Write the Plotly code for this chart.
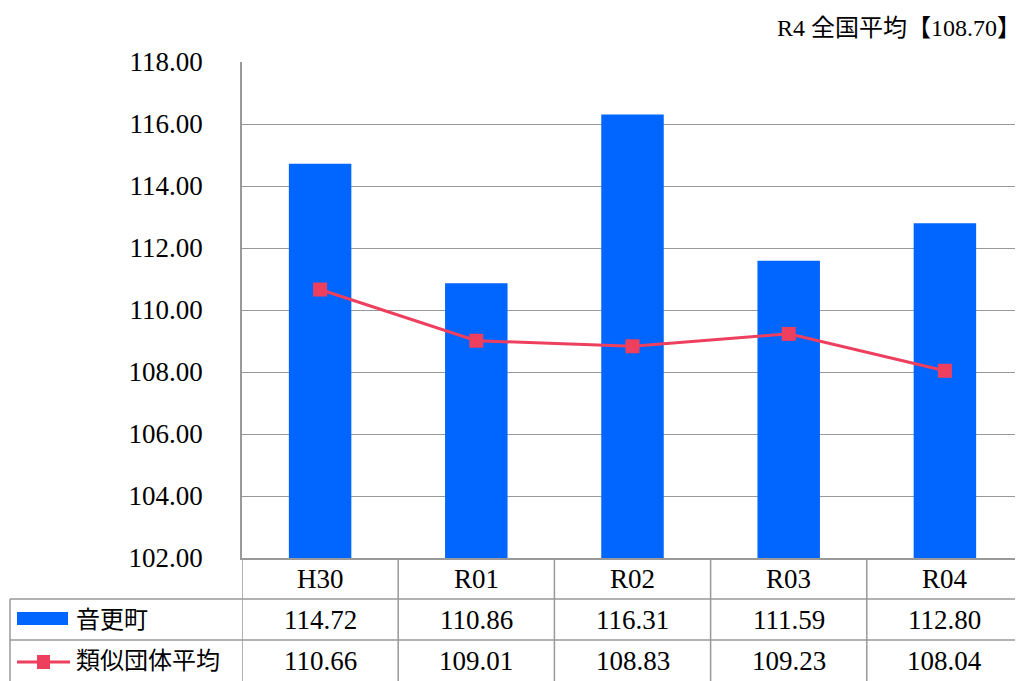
import plotly.graph_objects as go

CATEGORIES = ["H30", "R01", "R02", "R03", "R04"]
TOWN_NAME = "音更町"
TOWN_VALUES = [114.72, 110.86, 116.31, 111.59, 112.80]
SIMILAR_NAME = "類似団体平均"
SIMILAR_VALUES = [110.66, 109.01, 108.83, 109.23, 108.04]
NOTE = "R4 全国平均【108.70】"

BLUE = "#0066FF"
PINK = "#EE3F5E"
GRID = "#999999"
FONT = "Liberation Serif, Noto Sans CJK JP, serif"
NUM_SIZE = 27
CJK_SIZE = 24

# page body adds an 8px margin around the figure
OFFSET = 8
W, H = 1023, 681

# pixel layout (window coords) of the plot area, used for the data table
PLOT_LEFT, PLOT_RIGHT, PLOT_TOP, PLOT_BOTTOM = 242, 1023, 62, 558
ROW_H = 41
PW = PLOT_RIGHT - PLOT_LEFT
PH = PLOT_BOTTOM - PLOT_TOP


def px_x(p):
    return (p - PLOT_LEFT) / PW


def px_y(p):
    return (PLOT_BOTTOM - p) / PH


fig = go.Figure()

fig.add_trace(go.Bar(
    x=list(range(len(CATEGORIES))),
    y=TOWN_VALUES,
    name=TOWN_NAME,
    marker=dict(color=BLUE, line=dict(width=0)),
    width=0.4,
    base=0,
))

fig.add_trace(go.Scatter(
    x=list(range(len(CATEGORIES))),
    y=SIMILAR_VALUES,
    name=SIMILAR_NAME,
    mode="lines+markers",
    line=dict(color=PINK, width=3),
    marker=dict(symbol="square", size=14, color=PINK),
))

shapes = []
line_style = dict(color=GRID, width=1.5)

# table horizontal lines
for y_px in [PLOT_BOTTOM + ROW_H, PLOT_BOTTOM + 2 * ROW_H]:
    shapes.append(dict(type="line", xref="paper", yref="paper",
                       x0=px_x(10), x1=1, y0=px_y(y_px), y1=px_y(y_px),
                       line=line_style))
# table vertical lines
for i in range(len(CATEGORIES) + 1):
    shapes.append(dict(type="line", xref="x", yref="paper",
                       x0=i - 0.5, x1=i - 0.5, y0=0, y1=px_y(H),
                       line=line_style))
shapes.append(dict(type="line", xref="paper", yref="paper",
                   x0=px_x(10), x1=px_x(10),
                   y0=px_y(PLOT_BOTTOM + ROW_H), y1=px_y(H),
                   line=line_style))

# legend keys inside the table
shapes.append(dict(type="rect", xref="paper", yref="paper",
                   x0=px_x(17), x1=px_x(68), y0=px_y(612), y1=px_y(625),
                   fillcolor=BLUE, line=dict(width=0)))
shapes.append(dict(type="line", xref="paper", yref="paper",
                   x0=px_x(17), x1=px_x(70), y0=px_y(662), y1=px_y(662),
                   line=dict(color=PINK, width=3)))
shapes.append(dict(type="rect", xref="paper", yref="paper",
                   x0=px_x(37), x1=px_x(50), y0=px_y(655), y1=px_y(669),
                   fillcolor=PINK, line=dict(width=0)))

annotations = []
header_y = px_y(PLOT_BOTTOM + ROW_H / 2)
row1_y = px_y(PLOT_BOTTOM + ROW_H * 1.5)
row2_y = px_y(PLOT_BOTTOM + ROW_H * 2.5)
num_font = dict(size=NUM_SIZE)
for i, cat in enumerate(CATEGORIES):
    annotations.append(dict(x=i, y=header_y, xref="x", yref="paper",
                            text=cat, showarrow=False, font=num_font,
                            xanchor="center", yanchor="middle"))
    annotations.append(dict(x=i, y=row1_y, xref="x", yref="paper",
                            text=f"{TOWN_VALUES[i]:.2f}", showarrow=False,
                            font=num_font, xanchor="center", yanchor="middle"))
    annotations.append(dict(x=i, y=row2_y, xref="x", yref="paper",
                            text=f"{SIMILAR_VALUES[i]:.2f}", showarrow=False,
                            font=num_font, xanchor="center", yanchor="middle"))

annotations.append(dict(x=px_x(74), y=row1_y, xref="paper", yref="paper",
                        text=TOWN_NAME, showarrow=False, xanchor="left",
                        yanchor="middle", font=dict(size=CJK_SIZE)))
annotations.append(dict(x=px_x(74), y=row2_y, xref="paper", yref="paper",
                        text=SIMILAR_NAME, showarrow=False, xanchor="left",
                        yanchor="middle", font=dict(size=CJK_SIZE)))
annotations.append(dict(x=1, y=px_y(28), xref="paper", yref="paper",
                        text=NOTE, showarrow=False, xanchor="right",
                        yanchor="middle", font=dict(size=24)))

fig.update_layout(
    width=W - OFFSET,
    height=H - OFFSET,
    margin=dict(l=PLOT_LEFT - OFFSET, r=W - PLOT_RIGHT,
                t=PLOT_TOP - OFFSET, b=H - PLOT_BOTTOM),
    paper_bgcolor="white",
    plot_bgcolor="white",
    showlegend=False,
    font=dict(family=FONT, size=NUM_SIZE, color="black"),
    shapes=shapes,
    annotations=annotations,
)

fig.update_xaxes(
    range=[-0.5, len(CATEGORIES) - 0.5],
    showticklabels=False,
    showgrid=False,
    zeroline=False,
    showline=True,
    linecolor=GRID,
    linewidth=1.5,
    ticks="",
)

fig.update_yaxes(
    range=[102, 118],
    dtick=2,
    tickformat=".2f",
    showgrid=True,
    gridcolor=GRID,
    gridwidth=1,
    zeroline=False,
    showline=True,
    linecolor=GRID,
    linewidth=1.5,
    ticks="",
    ticklabelstandoff=32,
    tickfont=dict(size=NUM_SIZE),
)

fig.write_html("out.html")
